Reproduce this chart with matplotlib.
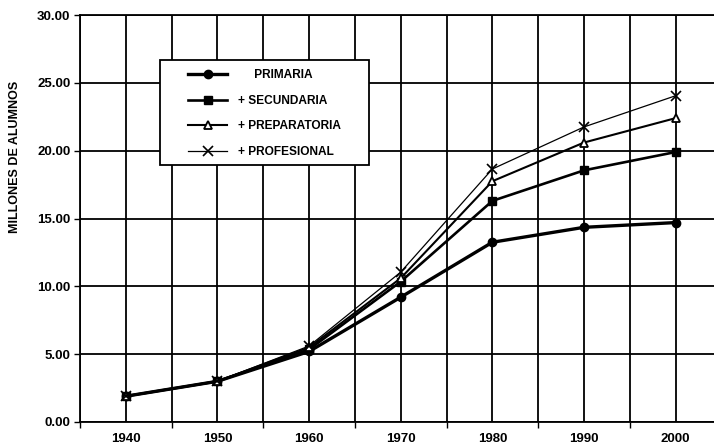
import matplotlib.pyplot as plt
from matplotlib.patches import Rectangle
from matplotlib.ticker import FormatStrFormatter

plt.rcParams['font.family'] = ['Liberation Sans', 'DejaVu Sans']

# matricula acumulada por nivel (millones de alumnos)
anios = [1940, 1950, 1960, 1970, 1980, 1990, 2000]
primaria = [1.9, 3.0, 5.2, 9.2, 13.25, 14.35, 14.7]
secundaria = [1.9, 3.0, 5.35, 10.35, 16.3, 18.55, 19.9]
preparatoria = [1.9, 3.0, 5.5, 10.6, 17.75, 20.6, 22.4]
profesional = [1.9, 3.0, 5.6, 11.05, 18.65, 21.75, 24.05]

etiquetas = ['PRIMARIA', '+ SECUNDARIA', '+ PREPARATORIA', '+ PROFESIONAL']

W, H = 714, 446
fig = plt.figure(figsize=(W / 100, H / 100), dpi=100)
# the plot runs on to 2005, a bit past the right edge of the figure
ax = fig.add_axes([80 / W, 24 / H, 641.5 / W, 407 / H])

ax.plot(anios, primaria, color='black', lw=2.4, marker='o', ms=6,
        label='     ' + etiquetas[0])
ax.plot(anios, secundaria, color='black', lw=1.9, marker='s', ms=6,
        label=etiquetas[1])
ax.plot(anios, preparatoria, color='black', lw=1.5, marker='^', ms=6,
        mfc='white', mew=1.3, label=etiquetas[2])
ax.plot(anios, profesional, color='black', lw=0.9, marker='x', ms=7,
        mew=1.2, label=etiquetas[3])

ax.set_xlim(1935, 2005)
ax.set_ylim(0, 30)

# labels on the decades, small ticks on the 5-year lines
ax.set_xticks(anios)
ax.set_xticks(list(range(1935, 2006, 10)), minor=True)
ax.tick_params(axis='x', which='major', length=0, pad=8)
ax.tick_params(axis='x', which='minor', length=4, width=1, direction='out')
ax.set_yticks(range(0, 31, 5))
ax.yaxis.set_major_formatter(FormatStrFormatter('%.2f'))
ax.tick_params(axis='y', length=4, width=1, direction='out', pad=3)

for lab in ax.get_xticklabels() + ax.get_yticklabels():
    lab.set_fontweight('bold')
    lab.set_fontsize(9.5)

ax.grid(True, which='both', color='black', lw=1.3)
ax.set_axisbelow(True)
for s in ['left', 'bottom', 'top']:
    ax.spines[s].set_linewidth(1.3)
ax.spines['right'].set_visible(False)

fig.text(15 / W, 1 - 157 / H, 'MILLONES DE ALUMNOS', rotation=90,
         ha='center', va='center', fontsize=9, fontweight='bold')

# legend box drawn separately so the handles can sit further in
caja = Rectangle((160 / W, 1 - 165 / H), 209 / W, 105 / H,
                 transform=fig.transFigure, facecolor='white',
                 edgecolor='black', lw=1.3, zorder=4)
ax.add_patch(caja)

leg = ax.legend(loc='upper left', bbox_to_anchor=(188 / W, 1 - 69 / H),
                bbox_transform=fig.transFigure, frameon=False,
                prop={'weight': 'bold', 'size': 8.6}, handlelength=3.3,
                labelspacing=1.15, borderpad=0, borderaxespad=0,
                handletextpad=0.85)
leg.set_zorder(5)

fig.savefig('out.png', dpi=100)
